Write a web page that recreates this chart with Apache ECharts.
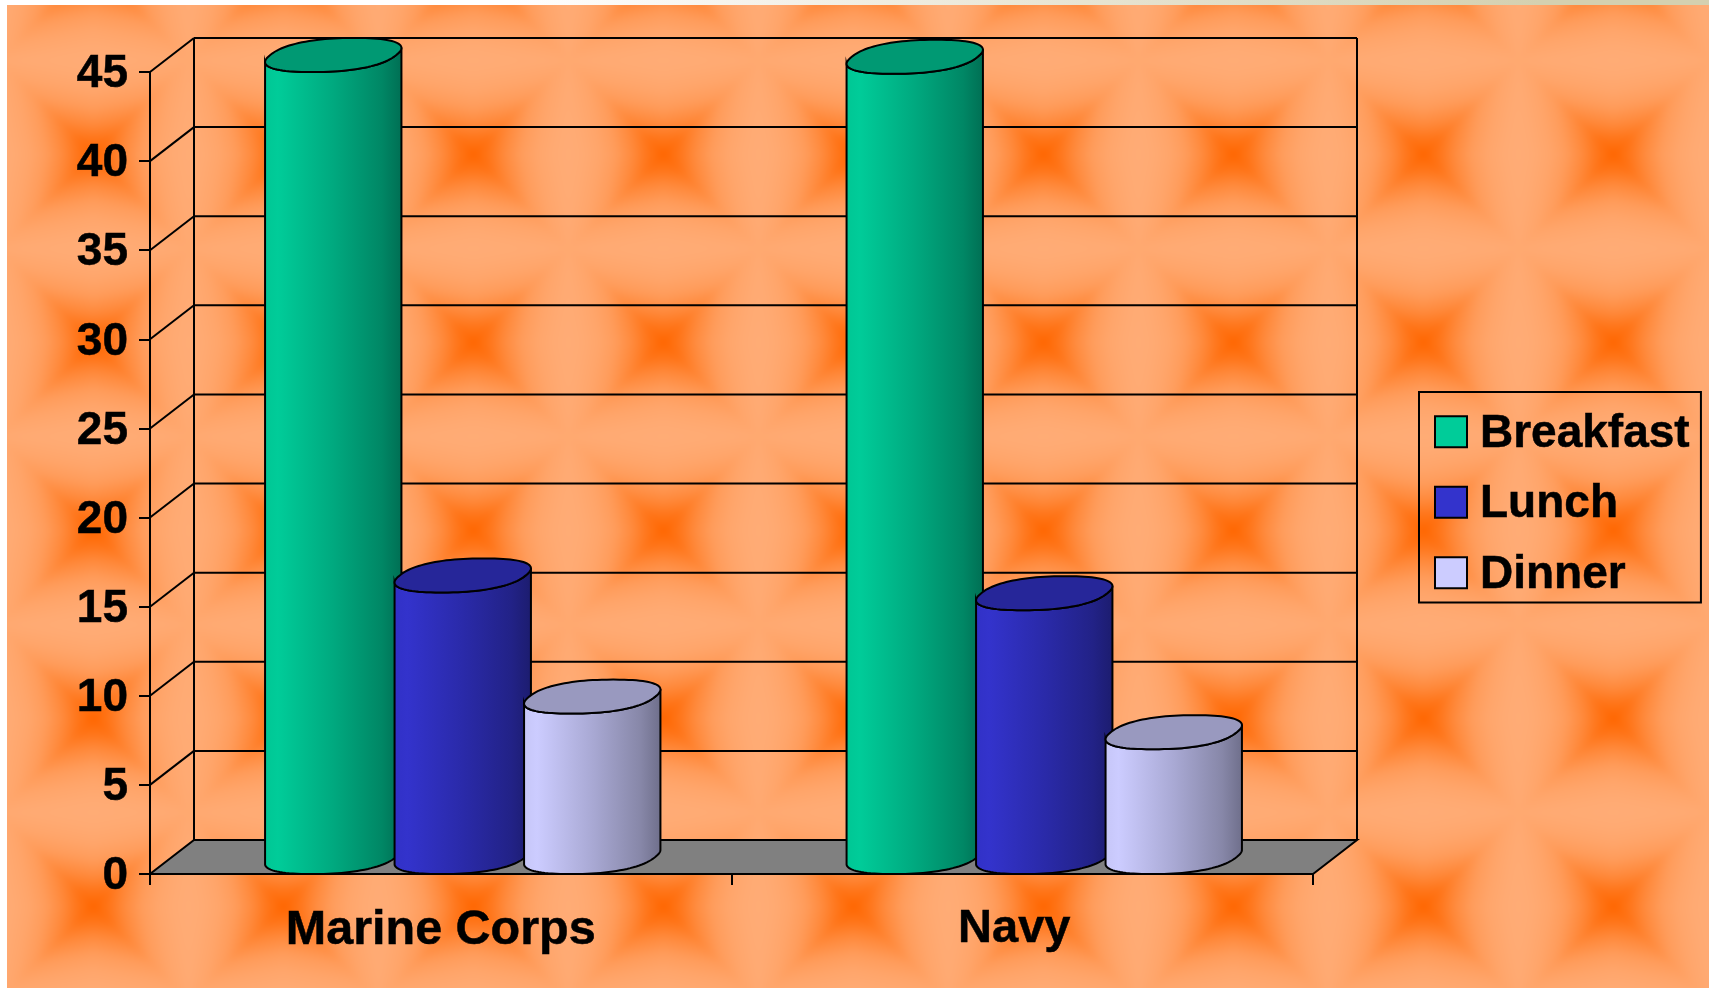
<!DOCTYPE html>
<html>
<head>
<meta charset="utf-8">
<title>Meals by service</title>
<style>
html,body{margin:0;padding:0;background:#fff;overflow:hidden}
#chart{position:absolute;left:0;top:0;width:1709px;height:988px}
#edgeLeft{position:absolute;left:0;top:0;width:7px;height:988px;background:#fff}
#edgeTop{position:absolute;left:0;top:0;width:1709px;height:5px;background:linear-gradient(90deg,#fff 0%,#fff 30%,#f4f2ea 45%,#d4d0b0 90%,#d4d0b0 100%)}
</style>
<script src="https://cdn.jsdelivr.net/npm/echarts@6/dist/echarts.min.js"></script>
</head>
<body>
<div id="chart"></div>
<div id="edgeLeft"></div>
<div id="edgeTop"></div>
<script>
// ---- data ----
const categories = ['Marine Corps', 'Navy'];
const breakfast = [45, 44.9];
const lunch = [15.8, 14.8];
const dinner = [9, 7];
const gridValues = [0, 5, 10, 15, 20, 25, 30, 35, 40, 45];

// ---- style ----
const FONT = '"Liberation Sans", Arial, sans-serif';
const DEPTH_X = 44, DEPTH_Y = 34;
const STEP = 129.5, RX = 63, SHEAR_X = 21, SHEAR_Y = 17, ROUND = 0.85;
const TILE_FALLOFF = [1, 0.78, 0.47, 0.23, 0.1, 0.03, 0];

function falloff(d) {
  const p = Math.min(d, 0.999) * (TILE_FALLOFF.length - 1);
  const i = Math.floor(p);
  return TILE_FALLOFF[i] + (TILE_FALLOFF[i + 1] - TILE_FALLOFF[i]) * (p - i);
}

function tileValue(x, y, W, H, CX, CY) {
  let dx = Math.abs(x - CX) % W; dx = Math.min(dx, W - dx);
  let dy = Math.abs(y - CY) % H; dy = Math.min(dy, H - dy);
  const ma = Math.max(dx / 95, dy / 94), mi = Math.min(dx / 95, dy / 94);
  const k = 0.2 * Math.min(1, ma / 0.4);
  return falloff(Math.max(0, ma - k * mi));
}

function backgroundTile() {
  const W = 190, H = 188, CX = 93, CY = 154;
  const c = document.createElement('canvas');
  c.width = W; c.height = H;
  const ctx = c.getContext('2d');
  const img = ctx.createImageData(W, H);
  for (let y = 0; y < H; y++) {
    for (let x = 0; x < W; x++) {
      let sum = 0;
      for (let oy = -4; oy <= 4; oy += 2) {
        for (let ox = -4; ox <= 4; ox += 2) {
          sum += tileValue(x + ox, y + oy, W, H, CX, CY);
        }
      }
      const t = sum / 25;
      const i = (y * W + x) * 4;
      img.data[i] = 255;
      img.data[i + 1] = 172 + (102 - 172) * t;
      img.data[i + 2] = 118 + (0 - 118) * t;
      img.data[i + 3] = 255;
    }
  }
  ctx.putImageData(img, 0, 0);
  return c;
}

function shade(rgb, k) {
  return 'rgb(' + rgb.map(v => Math.round(v * k)).join(',') + ')';
}

function spow(v) {
  return Math.sign(v) * Math.pow(Math.abs(v), ROUND);
}

// closed rim of a cylinder, seen obliquely
function rim(cx, cy) {
  const pts = [];
  const n = 96;
  for (let i = 0; i < n; i++) {
    const a = Math.PI * 2 * i / n;
    const c = spow(Math.cos(a)), s = spow(Math.sin(a));
    pts.push([cx + RX * c + SHEAR_X * s, cy - SHEAR_Y * s]);
  }
  return pts;
}

function cylinderItem(slot, rgb) {
  return function (params, api) {
    const idx = api.value(0);
    const top = api.coord([idx, api.value(1)]);
    const bottom = api.coord([idx, 0]);
    const cx = top[0] + DEPTH_X / 2 + slot * STEP;
    const topRim = rim(cx, top[1] - DEPTH_Y / 2);
    const botRim = rim(cx, bottom[1] - DEPTH_Y / 2);
    let iR = 0, iL = 0;
    topRim.forEach((p, i) => {
      if (p[0] > topRim[iR][0]) iR = i;
      if (p[0] < topRim[iL][0]) iL = i;
    });
    // iL..iR runs through the front (lower) half of the rim
    const front = r => {
      const out = [];
      for (let i = iL; ; i = (i + 1) % r.length) {
        out.push(r[i]);
        if (i === iR) break;
      }
      return out;
    };
    const body = front(topRim).concat(front(botRim).reverse());
    return {
      type: 'group',
      children: [
        {
          type: 'polygon',
          shape: { points: body },
          style: {
            fill: new echarts.graphic.LinearGradient(0, 0, 1, 0, [
              { offset: 0, color: shade(rgb, 0.97) },
              { offset: 0.1, color: shade(rgb, 1) },
              { offset: 0.5, color: shade(rgb, 0.83) },
              { offset: 0.85, color: shade(rgb, 0.66) },
              { offset: 1, color: shade(rgb, 0.54) }
            ]),
            stroke: '#000',
            lineWidth: 2
          }
        },
        {
          type: 'polygon',
          shape: { points: topRim },
          style: { fill: shade(rgb, 0.75), stroke: '#000', lineWidth: 2 }
        }
      ]
    };
  };
}

function wallItem(params, api) {
  const v = api.value(1);
  const p = api.coord([0, v]);
  const cs = params.coordSys;
  const xl = cs.x, xr = cs.x + cs.width;
  const y = p[1];
  const line = (x1, y1, x2, y2) => ({
    type: 'line',
    shape: { x1, y1, x2, y2 },
    style: { stroke: '#000', lineWidth: 2 }
  });
  const children = [];
  if (v === 0) {
    children.push({
      type: 'polygon',
      shape: { points: [[xl, y], [xr, y], [xr + DEPTH_X, y - DEPTH_Y], [xl + DEPTH_X, y - DEPTH_Y]] },
      style: { fill: '#808080', stroke: '#000', lineWidth: 2 }
    });
    const topY = api.coord([0, gridValues[gridValues.length - 1]])[1];
    children.push(line(xl + DEPTH_X, y - DEPTH_Y, xl + DEPTH_X, topY - DEPTH_Y));
    children.push(line(xr + DEPTH_X, y - DEPTH_Y, xr + DEPTH_X, topY - DEPTH_Y));
  } else {
    children.push(line(xl, y, xl + DEPTH_X, y - DEPTH_Y));
    children.push(line(xl + DEPTH_X, y - DEPTH_Y, xr + DEPTH_X, y - DEPTH_Y));
  }
  return { type: 'group', children };
}

function cylinderSeries(name, values, slot, rgb) {
  return {
    type: 'custom',
    name,
    z: 3,
    clip: false,
    silent: true,
    renderItem: cylinderItem(slot, rgb),
    itemStyle: { color: shade(rgb, 1) },
    encode: { x: 0, y: 1 },
    data: values.map((v, i) => [i, v])
  };
}

const heavy = { textBorderColor: '#000', textBorderWidth: 0.5 };
const chart = echarts.init(document.getElementById('chart'), null, { renderer: 'canvas' });
chart.setOption({
  animation: false,
  backgroundColor: { image: backgroundTile(), repeat: 'repeat' },
  grid: { left: 150, top: 72, width: 1163, height: 802, containLabel: false },
  legend: {
    data: ['Breakfast', 'Lunch', 'Dinner'],
    orient: 'vertical',
    left: 1419,
    top: 392,
    padding: [19, 11, 4, 15],
    itemWidth: 32,
    itemHeight: 31,
    itemGap: 24,
    borderColor: '#000',
    borderWidth: 2,
    icon: 'rect',
    itemStyle: { borderColor: '#000', borderWidth: 2 },
    formatter: '{t|{name}}',
    textStyle: {
      padding: [0, 2, 0, 8],
      rich: { t: { color: '#000', fontFamily: FONT, fontWeight: 'bold', fontSize: 46, padding: [5, 0, 0, 0], ...heavy } }
    },
    selectedMode: false
  },
  xAxis: {
    type: 'category',
    data: categories,
    z: 2,
    axisLine: { show: true, lineStyle: { color: '#000', width: 2 } },
    axisTick: { show: true, length: 11, alignWithLabel: false, lineStyle: { color: '#000', width: 2 } },
    axisLabel: {
      margin: 32,
      color: '#000',
      formatter: v => v === categories[1] ? '{b|' + v + '}' : '{a|' + v + '}',
      rich: {
        a: { color: '#000', fontFamily: FONT, fontWeight: 'bold', fontSize: 48.5, ...heavy },
        b: { color: '#000', fontFamily: FONT, fontWeight: 'bold', fontSize: 47, padding: [0, 16, 0, 0], ...heavy }
      }
    },
    splitLine: { show: false }
  },
  yAxis: {
    type: 'value',
    min: 0,
    max: 45,
    interval: 5,
    z: 2,
    axisLine: { show: true, lineStyle: { color: '#000', width: 2 } },
    axisTick: { show: true, length: 11, lineStyle: { color: '#000', width: 2 } },
    axisLabel: {
      margin: 22,
      formatter: '{v|{value}}',
      rich: { v: { color: '#000', fontFamily: FONT, fontWeight: 'bold', fontSize: 46, padding: [5, 0, 0, 0], ...heavy } }
    },
    splitLine: { show: false }
  },
  tooltip: { show: false },
  series: [
    {
      type: 'custom',
      name: 'walls',
      z: 1,
      clip: false,
      silent: true,
      renderItem: wallItem,
      encode: { x: 0, y: 1 },
      data: gridValues.map(v => [0, v])
    },
    cylinderSeries('Breakfast', breakfast, -1, [0, 204, 153]),
    cylinderSeries('Lunch', lunch, 0, [51, 51, 204]),
    cylinderSeries('Dinner', dinner, 1, [204, 204, 255])
  ]
});
</script>
</body>
</html>
